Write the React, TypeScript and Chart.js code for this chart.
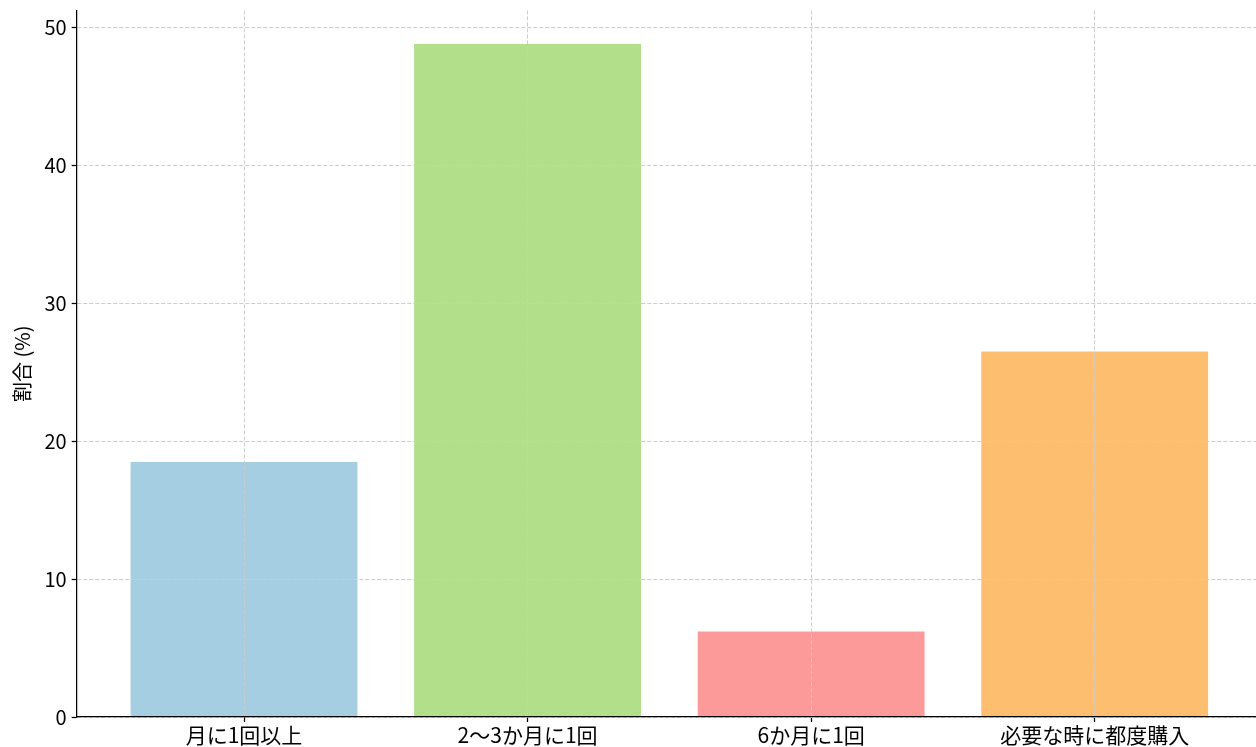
import React, { useEffect, useRef } from "react";
import { Chart, registerables } from "chart.js";

Chart.register(...registerables);

const categories = ["月に1回以上", "2〜3か月に1回", "6か月に1回", "必要な時に都度購入"];
const shares = [18.5, 48.8, 6.2, 26.5];
const barColors = ["#a6cee3", "#b2df8a", "#fb9a99", "#fdbf6f"];
const yTitle = "割合 (%)";
const yMax = 51.24;
const yStep = 10;

const FONT = "'Noto Sans CJK JP', 'Noto Sans', sans-serif";

export default function App() {
  const ref = useRef<HTMLCanvasElement | null>(null);

  useEffect(() => {
    if (!ref.current) return;
    const chart = new Chart(ref.current, {
      type: "bar",
      data: {
        datasets: [
          {
            data: shares.map((v, i) => ({ x: i, y: v })),
            backgroundColor: barColors,
            borderWidth: 0,
            barPercentage: 0.8,
            categoryPercentage: 1,
          },
        ],
      },
      options: {
        animation: false,
        responsive: true,
        maintainAspectRatio: false,
        layout: { padding: { top: 10.4, left: 0, right: 0, bottom: 0 } },
        plugins: { legend: { display: false }, tooltip: { enabled: false }, title: { display: false } },
        scales: {
          x: {
            type: "linear",
            offset: false,
            min: -0.59,
            max: 3.59,
            afterBuildTicks: (s: any) => {
              s.ticks = categories.map((_, i) => ({ value: i }));
            },
            afterFit: (s: any) => {
              s.height = 30;
              s.paddingLeft = 0;
              s.paddingRight = 0;
            },
            ticks: {
              autoSkip: false,
              maxRotation: 0,
              minRotation: 0,
              padding: 0,
              color: "#000",
              font: { family: FONT, size: 21, lineHeight: 1.2 },
              callback: (v: any) => categories[v as number] ?? "",
            },
            grid: {
              offset: false,
              z: 1,
              color: "#cccccc",
              lineWidth: 1,
              tickLength: 5,
              tickColor: "#000",
              tickWidth: 1.25,
            },
            border: { display: true, color: "#000", width: 1.25, dash: [4, 2], z: 2 },
          },
          y: {
            min: 0,
            max: yMax,
            afterFit: (s: any) => {
              s.width = 76.7;
              s.paddingTop = 0;
              s.paddingBottom = 0;
            },
            ticks: {
              stepSize: yStep,
              includeBounds: false,
              padding: 5,
              color: "#000",
              font: { family: FONT, size: 20, lineHeight: 1.2 },
            },
            title: {
              display: true,
              text: yTitle,
              color: "#000",
              font: { family: FONT, size: 20, lineHeight: 1.2 },
              padding: { top: 10, bottom: 0 },
            },
            grid: {
              z: 1,
              color: "#cccccc",
              lineWidth: 1,
              tickLength: 5,
              tickColor: "#000",
              tickWidth: 1.25,
            },
            border: { display: true, color: "#000", width: 1.25, dash: [4, 2], z: 2 },
          },
        },
      },
    } as any);
    return () => chart.destroy();
  }, []);

  return (
    <div style={{ position: "fixed", left: 0, top: 0, width: 1256, height: 747, overflow: "hidden", background: "#fff" }}>
      <div style={{ position: "relative", width: 1262, height: 747 }}>
        <canvas ref={ref} />
      </div>
    </div>
  );
}
